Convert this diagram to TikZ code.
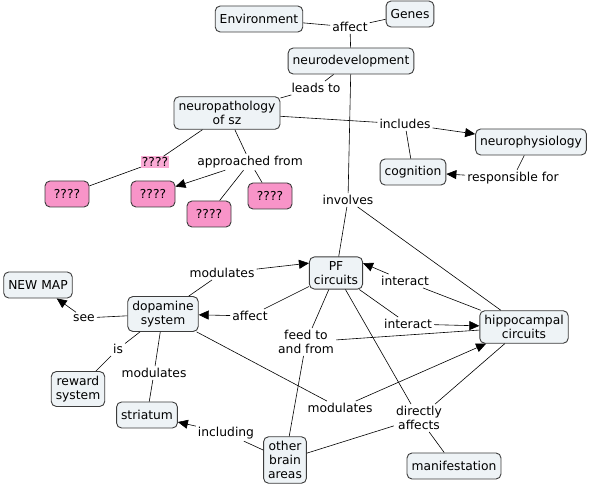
\documentclass[tikz,border=0pt]{standalone}
\usepackage{fontspec}
\setmainfont{DejaVu Sans}
\usetikzlibrary{arrows.meta}
\definecolor{boxfill}{RGB}{238,243,246}
\definecolor{boxline}{RGB}{60,60,60}
\definecolor{pinkfill}{RGB}{248,148,200}
\definecolor{pinklbl}{RGB}{250,170,212}

\begin{document}
\begin{tikzpicture}[x=1pt,y=-1pt,
  font=\fontsize{12.3}{14}\selectfont,
  concept/.style={draw=boxline,fill=boxfill,line width=0.9pt,rounded corners=5pt,
    align=center,inner sep=4.5pt,minimum height=26pt},
  pinkbox/.style={concept,fill=pinkfill,minimum width=44pt},
  lbl/.style={inner sep=2pt,align=center},
  link/.style={black,line width=0.6pt},
  arr/.style={link,-{Triangle[length=10pt,width=9pt]}}]
\useasboundingbox (0,0) rectangle (590,489);
% concepts
\node [concept] (env) at (259,19) {Environment};
\node [concept] (genes) at (410,14) {Genes};
\node [concept] (neurodev) at (351,61) {neurodevelopment};
\node [concept] (neuropath) at (227,113) {neuropathology\\of sz};
\node [concept] (neurophys) at (531,142) {neurophysiology};
\node [concept] (cognition) at (413,172) {cognition};
\node [pinkbox] (pinka) at (67,194) {????};
\node [pinkbox] (pinkb) at (153,194) {????};
\node [pinkbox] (pinkc) at (209,214) {????};
\node [pinkbox] (pinkd) at (270,196) {????};
\node [concept] (pf) at (336,273) {PF\\circuits};
\node [concept] (hippo) at (524,327) {hippocampal\\circuits};
\node [concept] (newmap) at (38,285) {NEW MAP};
\node [concept] (dopa) at (163,314) {dopamine\\system};
\node [concept] (reward) at (78,389) {reward\\system};
\node [concept] (striatum) at (147,415) {striatum};
\node [concept] (other) at (285,460) {other\\brain\\areas};
\node [concept] (manif) at (454,466) {manifestation};
% link labels
\node [lbl] (affecta) at (350,27) {affect};
\node [lbl] (leads) at (316,88) {leads to};
\node [lbl] (includes) at (405,124) {includes};
\node [lbl] (resp) at (513,178) {responsible for};
\node [lbl,fill=pinklbl,inner sep=1pt] (qlbl) at (155,162) {????};
\node [lbl] (approach) at (250,162) {approached from};
\node [lbl] (involves) at (348,200) {involves};
\node [lbl] (modup) at (222,273) {modulates};
\node [lbl] (affectb) at (250,316) {affect};
\node [lbl] (interup) at (405,281) {interact};
\node [lbl] (interlo) at (408,324) {interact};
\node [lbl] (see) at (84,318) {see};
\node [lbl] (is) at (118,349) {is};
\node [lbl] (modlo) at (154,373) {modulates};
\node [lbl] (feed) at (306,342) {feed to\\and from};
\node [lbl] (modmid) at (340,408) {modulates};
\node [lbl] (direct) at (419,418) {directly\\affects};
\node [lbl] (incl) at (226,433) {including};
% connectors
\draw [link] (env) -- (affecta);
\draw [link] (genes) -- (affecta);
\draw [link] (affecta) -- (neurodev);
\draw [link] (neurodev) -- (leads);
\draw [link] (leads) -- (neuropath);
\draw [link] (neuropath) -- (includes);
\draw [arr] (includes) -- (neurophys);
\draw [link] (includes) -- (cognition);
\draw [link] (neurophys) -- (resp);
\draw [arr] (resp) -- (cognition);
\draw [link] (neuropath) -- (qlbl);
\draw [link] (qlbl) -- (pinka);
\draw [link] (neuropath) -- (approach);
\draw [arr] (approach) -- (pinkb);
\draw [link] (approach) -- (pinkc);
\draw [link] (approach) -- (pinkd);
\draw [link] (neurodev) -- (involves);
\draw [link] (involves) -- (pf);
\draw [link] (involves) -- (hippo);
\draw [link] (dopa) -- (modup);
\draw [arr] (modup) -- (pf.160);
\draw [link] (pf) -- (affectb);
\draw [arr] (affectb) -- (dopa);
\draw [link] (hippo) -- (interup);
\draw [arr] (interup) -- (pf.20);
\draw [link] (pf) -- (interlo);
\draw [arr] (interlo) -- (hippo);
\draw [link] (dopa) -- (see);
\draw [arr] (see) -- (newmap);
\draw [link] (dopa) -- (is);
\draw [link] (is) -- (reward);
\draw [link] (dopa) -- (modlo);
\draw [link] (modlo) -- (striatum);
\draw [link] (other) -- (incl);
\draw [arr] (incl) -- (striatum);
\draw [link] (dopa) -- (modmid);
\draw [arr] (modmid) -- (hippo);
\draw [link] (pf) -- (feed);
\draw [link] (feed) -- (hippo);
\draw [link] (feed) -- (other);
\draw [link] (pf) -- (direct);
\draw [link] (hippo) -- (direct);
\draw [link] (direct) -- (other);
\draw [link] (direct) -- (manif);
\end{tikzpicture}
\end{document}
